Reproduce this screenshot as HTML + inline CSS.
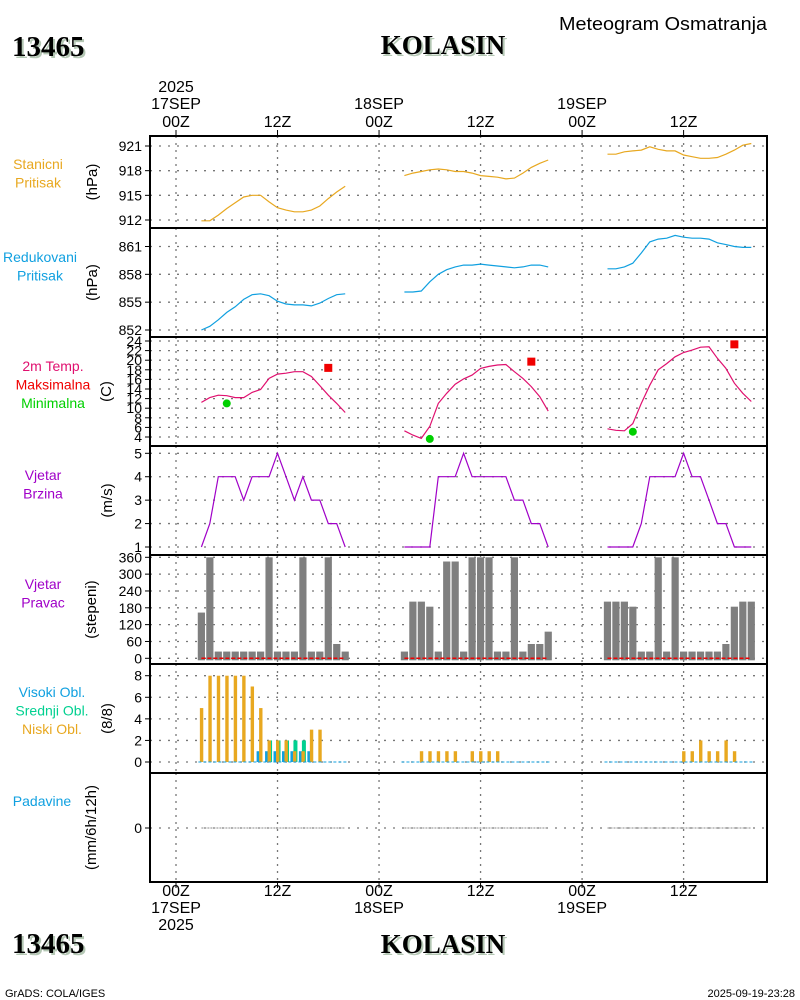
<!DOCTYPE html>
<html><head><meta charset="utf-8"><style>
html,body{margin:0;padding:0;background:#fff;}
body{width:800px;height:1000px;overflow:hidden;position:relative;font-family:"Liberation Sans",sans-serif;}
svg{position:absolute;left:0;top:0;}
</style></head><body>
<svg id="chart" width="800" height="1000" viewBox="0 0 800 1000" xmlns="http://www.w3.org/2000/svg">
<g font-family="Liberation Serif, serif" font-weight="bold">
<text x="14" y="58" font-size="29" fill="#b5c8b5">13465</text>
<text x="12" y="56" font-size="29" fill="#000">13465</text>
<text x="445" y="56" font-size="27" fill="#b5c8b5" text-anchor="middle">KOLASIN</text>
<text x="443" y="54" font-size="27" fill="#000" text-anchor="middle">KOLASIN</text>
<text x="14" y="955" font-size="29" fill="#b5c8b5">13465</text>
<text x="12" y="953" font-size="29" fill="#000">13465</text>
<text x="445" y="955" font-size="27" fill="#b5c8b5" text-anchor="middle">KOLASIN</text>
<text x="443" y="953" font-size="27" fill="#000" text-anchor="middle">KOLASIN</text>
</g>
<text x="767" y="30" font-size="18" text-anchor="end" fill="#000" textLength="208" lengthAdjust="spacingAndGlyphs">Meteogram Osmatranja</text>
<text x="5" y="997" font-size="11" fill="#000">GrADS: COLA/IGES</text>
<text x="795" y="997" font-size="11" fill="#000" text-anchor="end">2025-09-19-23:28</text>
<g id="g"></g>
</svg>
<script>
// ---- data ----
const dayHours = [[3,20],[27,44],[51,68]];
const timeTicks = [0,12,24,36,48,60];
const timeTickLabels = ["00Z","12Z","00Z","12Z","00Z","12Z"];
const dateLabels = [[0,"17SEP"],[24,"18SEP"],[48,"19SEP"]];
const stnPress = [
 [911.9,911.9,912.6,913.4,914.1,914.8,915.0,915.0,914.2,913.5,913.2,913.0,913.0,913.2,913.7,914.6,915.4,916.1],
 [917.4,917.7,917.9,918.1,918.2,918.1,917.9,917.9,917.7,917.4,917.3,917.2,917.0,917.1,917.7,918.4,918.9,919.3],
 [920.0,920.0,920.3,920.4,920.5,920.9,920.6,920.4,920.4,919.9,919.7,919.5,919.5,919.6,920.0,920.5,921.1,921.3]];
const redPress = [
 [852.0,852.4,853.1,853.9,854.5,855.3,855.8,855.9,855.7,855.1,854.8,854.7,854.7,854.6,854.9,855.4,855.8,855.9],
 [856.1,856.1,856.2,857.2,858.0,858.5,858.8,859.0,859.0,859.1,859.0,858.9,858.8,858.7,858.8,859.0,859.0,858.8],
 [858.6,858.6,858.8,859.2,860.3,861.5,861.8,861.9,862.2,862.0,861.9,861.9,861.8,861.4,861.2,861.0,860.9,860.9]];
const temp2m = [
 [11.2,12.2,12.7,12.6,12.2,12.2,13.3,13.9,16.2,17.1,17.3,17.6,17.6,16.6,14.7,12.7,11.0,9.1],
 [5.3,4.4,3.7,6.2,11.0,13.1,15.0,16.1,16.9,18.3,18.7,19.0,19.1,17.6,16.2,14.5,12.4,9.4],
 [5.7,5.4,5.3,6.8,11.0,14.8,18.0,19.3,20.7,21.6,22.1,22.7,22.8,20.4,18.3,15.2,13.1,11.4]];
const tMaxHour = [18.0,42.0,66.0];
const tMaxVal = [18.4,19.7,23.3];
const tMinHour = [6.0,30.0,54.0];
const tMinVal = [11.0,3.6,5.1];
const windSpd = [
 [1,2,4,4,4,3,4,4,4,5,4,3,4,3,3,2,2,1],
 [1,1,1,1,4,4,4,5,4,4,4,4,4,3,3,2,2,1],
 [1,1,1,1,2,4,4,4,4,5,4,4,3,2,2,1,1,1]];
const windDir = [
 [163,360,24,24,24,24,24,24,360,24,24,24,360,24,24,360,51,24],
 [24,202,202,184,24,345,345,24,360,360,360,24,24,360,24,51,51,95],
 [202,202,202,184,24,24,360,24,360,24,24,24,24,24,51,184,202,202]];
const cloudLow = [
 [5,8,8,8,8,8,7,5,2,2,2,1,1,3,3,0,0,0],
 [0,0,1,1,1,1,1,0,1,1,1,1,0,0,0,0,0,0],
 [0,0,0,0,0,0,0,0,0,1,1,2,1,1,2,1,0,0]];
const cloudMid = [
 [0,0,0,0,0,0,0,0,2,2,2,2,2,0,0,0,0,0],
 [0,0,0,0,0,0,0,0,0,0,0,0,0,0,0,0,0,0],
 [0,0,0,0,0,0,0,0,0,0,0,0,0,0,0,0,0,0]];
const cloudHigh = [
 [0,0,0,0,0,0,0,1,1,1,1,1,1,1,0,0,0,0],
 [0,0,0,0,0,0,0,0,0,0,0,0,0,0,0,0,0,0],
 [0,0,0,0,0,0,0,0,0,0,0,0,0,0,0,0,0,0]];
const precip = [
 [0,0,0,0,0,0,0,0,0,0,0,0,0,0,0,0,0,0],
 [0,0,0,0,0,0,0,0,0,0,0,0,0,0,0,0,0,0],
 [0,0,0,0,0,0,0,0,0,0,0,0,0,0,0,0,0,0]];
const pStnTicks = [912,915,918,921];
const pRedTicks = [852,855,858,861];
const tTicks = [4,6,8,10,12,14,16,18,20,22,24];
const wsTicks = [1,2,3,4,5];
const wdTicks = [0,60,120,180,240,300,360];
const clTicks = [0,2,4,6,8];
const prTicks = [0];

// ---- layout ----
const NS = "http://www.w3.org/2000/svg";
const G = document.getElementById('g');
const X0 = 150, X1 = 767;
const xT = h => 176 + h * 8.46;
function lin(v0, y0, v1, y1){ return v => y0 + (v - v0) * (y1 - y0) / (v1 - v0); }
function mk(tag, attrs, parent){
  const e = document.createElementNS(NS, tag);
  for (const k in attrs) e.setAttribute(k, attrs[k]);
  (parent || G).appendChild(e);
  return e;
}
function txt(s, attrs){ const e = mk('text', attrs); e.textContent = s; return e; }

const panels = [
  {id:'station-pressure', top:136, bot:228, y:lin(912,220,921,146), ticks:pStnTicks, unit:'(hPa)', ux:97, labels:[['Stanicni','#e8a820'],['Pritisak','#e8a820']], ly:169, lx:38},
  {id:'reduced-pressure', top:228, bot:337, y:lin(852,330,861,246.5), ticks:pRedTicks, unit:'(hPa)', ux:97, labels:[['Redukovani','#10a0e0'],['Pritisak','#10a0e0']], ly:262, lx:40},
  {id:'temperature', top:337, bot:446, y:lin(4,437,24,341), ticks:tTicks, unit:'(C)', ux:111, labels:[['2m Temp.','#e0106f'],['Maksimalna','#f00000'],['Minimalna','#00d000']], ly:371, lx:53},
  {id:'wind-speed', top:446, bot:555, y:lin(1,547,5,453.3), ticks:wsTicks, unit:'(m/s)', ux:112, labels:[['Vjetar','#a000c8'],['Brzina','#a000c8']], ly:480, lx:43},
  {id:'wind-direction', top:555, bot:664, y:lin(0,658.3,360,557.3), ticks:wdTicks, unit:'(stepeni)', ux:96, labels:[['Vjetar','#a000c8'],['Pravac','#a000c8']], ly:589, lx:43},
  {id:'cloud-cover', top:664, bot:773, y:lin(0,762,8,675.7), ticks:clTicks, unit:'(8/8)', ux:112, labels:[['Visoki Obl.','#10a0e0'],['Srednji Obl.','#00d090'],['Niski Obl.','#e8a820']], ly:697, lx:52},
  {id:'precipitation', top:773, bot:882, y:lin(-1,870,1,786), ticks:prTicks, unit:'(mm/6h/12h)', ux:96, labels:[['Padavine','#10a0e0']], ly:806, lx:42}
];

panels.forEach(p => {
  timeTicks.forEach(h => {
    const l = mk('line', {x1:xT(h), x2:xT(h), y1:p.top, y2:p.bot, stroke:'#777', 'stroke-width':1.3, 'stroke-dasharray':'2,5'});
    
    
  });
  p.ticks.forEach(v => {
    const yy = p.y(v);
    const l = mk('line', {x1:X0, x2:X1, y1:yy, y2:yy, stroke:'#777', 'stroke-width':1.3, 'stroke-dasharray':'2,7'});
    
    
    const tk = mk('line', {x1:X0-5, x2:X0, y1:yy, y2:yy, stroke:'#000', 'stroke-width':1});
    
    
    const t = txt(String(v), {x:X0-8, y:yy+5, 'font-size':14, 'text-anchor':'end', fill:'#000'});
    
    
  });
  const cy = (p.top + p.bot) / 2;
  const u = txt(p.unit, {x:p.ux, y:cy, 'font-size':15, 'text-anchor':'middle', transform:'rotate(-90 ' + p.ux + ' ' + cy + ')', fill:'#000'});
  
  
  p.labels.forEach((lb, i) => {
    const t = txt(lb[0], {x:p.lx, y:p.ly + i*18.5, 'font-size':14, 'text-anchor':'middle', fill:lb[1]});
    
    
  });
});

function hoursOf(d){ const a=[]; for(let h=dayHours[d][0]; h<=dayHours[d][1]; h++) a.push(h); return a; }
function line(series, p, color, name){
  series.forEach((vals, d) => {
    const hs = hoursOf(d);
    const pts = vals.map((v,i) => xT(hs[i]).toFixed(1) + ',' + p.y(v).toFixed(1)).join(' ');
    const pl = mk('polyline', {points:pts, fill:'none', stroke:color, 'stroke-width':1.2});
    
    
  });
}
line(stnPress, panels[0], '#e8a820', 'station-pressure-line');
line(redPress, panels[1], '#10a0e0', 'reduced-pressure-line');
line(temp2m, panels[2], '#e0106f', 'temperature-line');
line(windSpd, panels[3], '#a000c8', 'wind-speed-line');

tMaxHour.forEach((h,i) => {
  const yy = panels[2].y(tMaxVal[i]);
  const r = mk('rect', {x:xT(h)-4, y:yy-4, width:8, height:8, fill:'#f00000'});
  
  
});
tMinHour.forEach((h,i) => {
  const c = mk('circle', {cx:xT(h), cy:panels[2].y(tMinVal[i]), r:4, fill:'#00d000'});
  
  
});

const pd = panels[4];
windDir.forEach((vals, d) => {
  const hs = hoursOf(d);
  vals.forEach((v,i) => {
    const y0 = pd.y(0) + 2, yy = pd.y(v);
    const b = mk('rect', {x:xT(hs[i])-3.6, y:yy, width:7.2, height:y0-yy, fill:'#7f7f7f'});
    
    
  });
  const l = mk('line', {x1:xT(hs[0]), x2:xT(hs[hs.length-1]), y1:pd.y(0), y2:pd.y(0), stroke:'#f00000', 'stroke-width':1.5, 'stroke-dasharray':'4,2'});
  
  
});

const pc = panels[5];
[[cloudHigh,'#10a0e0',-4,4],[cloudMid,'#00d090',-1,4],[cloudLow,'#e8a820',-1.5,3.4]].forEach(([ser,col,off,w]) => {
  ser.forEach((vals,d) => {
    const hs = hoursOf(d);
    vals.forEach((v,i) => {
      if (v <= 0) return;
      const yy = pc.y(v);
      const b = mk('rect', {x:xT(hs[i]) + off, y:yy, width:w, height:pc.y(0)-yy, fill:col});
      
      
    });
  });
});
dayHours.forEach((r) => {
  const l = mk('line', {x1:xT(r[0])-3, x2:xT(r[1])+3, y1:pc.y(0), y2:pc.y(0), stroke:'#10a0e0', 'stroke-width':1, 'stroke-dasharray':'3,2'});
  
  
});

const pp = panels[6];
precip.forEach((vals,d) => {
  const hs = hoursOf(d);
  const pts = vals.map((v,i) => xT(hs[i]).toFixed(1) + ',' + pp.y(v).toFixed(1)).join(' ');
  const pl = mk('polyline', {points:pts, fill:'none', stroke:'#888', 'stroke-width':1, 'stroke-dasharray':'2,1'});
  
  
});

panels.forEach(p => {
  const r = mk('rect', {x:X0, y:p.top, width:X1-X0, height:p.bot-p.top, fill:'none', stroke:'#000', 'stroke-width':2});
  
  
});

timeTicks.forEach((h,i) => {
  const x = xT(h);
  const t1 = mk('line', {x1:x, x2:x, y1:130, y2:136, stroke:'#000'});
  
  
  const t2 = mk('line', {x1:x, x2:x, y1:882, y2:888, stroke:'#000'});
  
  
  const a = txt(timeTickLabels[i], {x:x, y:127, 'font-size':16, 'text-anchor':'middle'});
  
  
  const b = txt(timeTickLabels[i], {x:x, y:896, 'font-size':16, 'text-anchor':'middle'});
  
  
});
dateLabels.forEach(([h,s]) => {
  const a = txt(s, {x:xT(h), y:109, 'font-size':16, 'text-anchor':'middle'});
  
  
  const b = txt(s, {x:xT(h), y:913, 'font-size':16, 'text-anchor':'middle'});
  
  
});
const y1 = txt('2025', {x:xT(0), y:92, 'font-size':16, 'text-anchor':'middle'});


const y2 = txt('2025', {x:xT(0), y:930, 'font-size':16, 'text-anchor':'middle'});


</script>
</body></html>
